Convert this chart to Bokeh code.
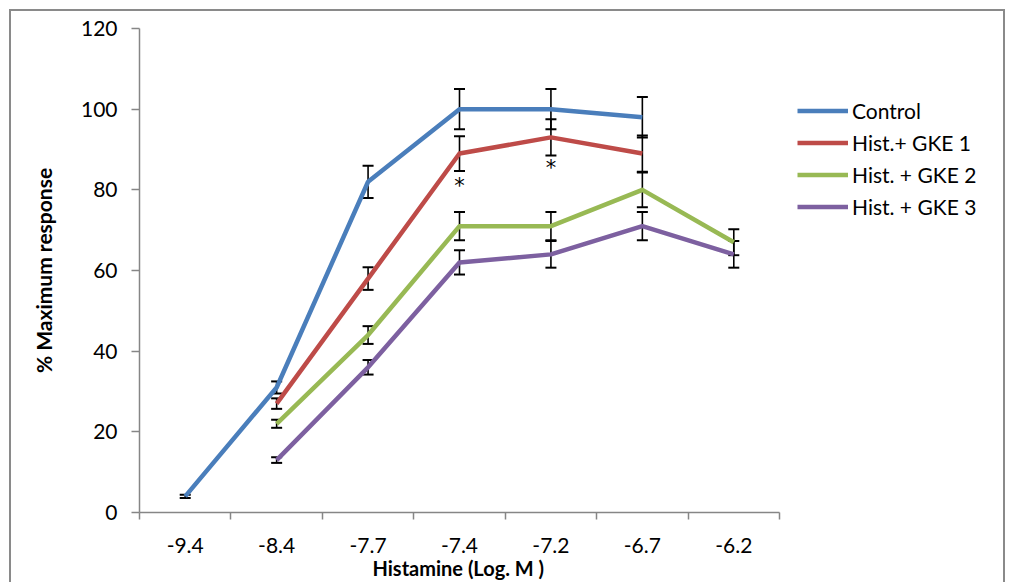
from bokeh.plotting import figure
from bokeh.models import (ColumnDataSource, FixedTicker, Whisker, TeeHead, Legend,
                          LegendItem, Range1d, Title)
from bokeh.core.properties import value
from bokeh.embed import file_html
from bokeh.resources import INLINE

# ---------------- data ----------------
x_labels = ["-9.4", "-8.4", "-7.7", "-7.4", "-7.2", "-6.7", "-6.2"]
series_names = ["Control", "Hist.+ GKE 1", "Hist. + GKE 2", "Hist. + GKE 3"]
control = [4, 31, 82, 100, 100, 98, None]
control_err = [0.4, 1.5, 4, 5, 5, 5, None]
gke1 = [None, 27, 58, 89, 93, 89, None]
gke1_err = [None, 1.3, 2.8, 4.3, 4.5, 4.5, None]
gke2 = [None, 22, 44, 71, 71, 80, 67]
gke2_err = [None, 1.0, 2.2, 3.5, 3.5, 4.3, 3.2]
gke3 = [None, 13, 36, 62, 64, 71, 64]
gke3_err = [None, 0.7, 1.8, 3.0, 3.3, 3.5, 3.3]
sig_labels = ["-7.4", "-7.2"]
sig_y = [81, 85.5]
y_ticks = [0, 20, 40, 60, 80, 100, 120]
x_title = "Histamine (Log. M )"
y_title = "% Maximum response"

colors = ["#4A7EBB", "#BE4B48", "#98B954", "#7D60A0"]
FONT = "Lato"
AXIS_COLOR = "#868686"
BORDER = "2px solid #8a8a8a"

# layout (pixels)
CANVAS_W, CANVAS_H = 996, 573
LEFT, RIGHT, TOP, BOTTOM = 128, 8, 17, 72
AXIS_PX = 640                      # width of the category axis
FRAME_W = CANVAS_W - LEFT - RIGHT

n = len(x_labels)
pos = {lab: i + 0.5 for i, lab in enumerate(x_labels)}

p = figure(width=CANVAS_W, height=CANVAS_H, output_backend="svg",
           toolbar_location=None,
           x_range=Range1d(0, n * FRAME_W / AXIS_PX), y_range=Range1d(0, 120),
           min_border_left=LEFT, min_border_right=RIGHT, min_border_top=TOP,
           min_border_bottom=BOTTOM,
           styles={"margin-left": "9px", "margin-top": "9px",
                   "border-top": BORDER, "border-left": BORDER,
                   "border-right": BORDER})
p.outline_line_color = None
p.xgrid.visible = False
p.ygrid.visible = False
p.background_fill_color = "white"

# x axis
xa = p.xaxis[0]
xa.bounds = (0, n)
xa.ticker = FixedTicker(ticks=[pos[l] for l in x_labels],
                        minor_ticks=list(range(n + 1)))
xa.major_label_overrides = {pos[l]: l for l in x_labels}
xa.major_tick_line_color = None
xa.major_tick_out = 0
xa.major_tick_in = 0
xa.minor_tick_out = 7
xa.minor_tick_in = 0
xa.minor_tick_line_color = AXIS_COLOR
xa.minor_tick_line_width = 1.5
xa.axis_line_color = AXIS_COLOR
xa.axis_line_width = 1.5
xa.major_label_standoff = 18
xa.major_label_text_font = FONT
xa.major_label_text_font_size = "21px"
xa.major_label_text_color = "black"

# x axis title, centred under the category axis
p.add_layout(Title(text=x_title, align="left", offset=233, standoff=0,
                   vertical_align="top",
                   text_font=FONT, text_font_size="20px",
                   text_font_style="bold", text_color="black"), "below")

# y axis
ya = p.yaxis[0]
ya.ticker = FixedTicker(ticks=y_ticks)
ya.major_tick_out = 8
ya.major_tick_in = 0
ya.minor_tick_line_color = None
ya.major_tick_line_color = AXIS_COLOR
ya.major_tick_line_width = 1.5
ya.axis_line_color = AXIS_COLOR
ya.axis_line_width = 1.5
ya.major_label_standoff = 14
ya.major_label_text_font = FONT
ya.major_label_text_font_size = "21px"
ya.major_label_text_color = "black"
ya.axis_label = y_title
ya.axis_label_text_font = FONT
ya.axis_label_text_font_size = "21px"
ya.axis_label_text_font_style = "bold"
ya.axis_label_text_color = "black"
ya.axis_label_standoff = 22

# series
all_vals = [control, gke1, gke2, gke3]
all_errs = [control_err, gke1_err, gke2_err, gke3_err]
renderers = []
for name, vals, errs, col in zip(series_names, all_vals, all_errs, colors):
    xs, ys, up, lo = [], [], [], []
    for lab, v, e in zip(x_labels, vals, errs):
        if v is None:
            continue
        xs.append(pos[lab])
        ys.append(v)
        up.append(v + e)
        lo.append(v - e)
    src = ColumnDataSource(dict(x=xs, y=ys, upper=up, lower=lo))
    r = p.line("x", "y", source=src, line_color=col, line_width=4.5,
               line_join="round")
    renderers.append(r)
    w = Whisker(source=src, base="x", upper="upper", lower="lower",
                line_color="black", line_width=1.6,
                upper_head=TeeHead(size=11, line_color="black", line_width=2),
                lower_head=TeeHead(size=11, line_color="black", line_width=2))
    p.add_layout(w)

# significance marks
p.text(x=[pos[l] for l in sig_labels], y=sig_y, text=["*"] * len(sig_labels),
       text_align="center", text_baseline="middle",
       text_font=value("DejaVu Sans"), text_font_size="21px",
       text_color="black")

legend = Legend(items=[LegendItem(label=nm, renderers=[r])
                       for nm, r in zip(series_names, renderers)],
                location=(658, 293))
legend.border_line_color = None
legend.background_fill_alpha = 0
legend.padding = 0
legend.margin = 0
legend.spacing = 7
legend.glyph_width = 51
legend.glyph_height = 25
legend.label_height = 25
legend.label_standoff = 4
legend.label_text_font = FONT
legend.label_text_font_size = "21px"
legend.label_text_color = "black"
p.add_layout(legend)

open("out.html", "w").write(file_html(p, INLINE))
